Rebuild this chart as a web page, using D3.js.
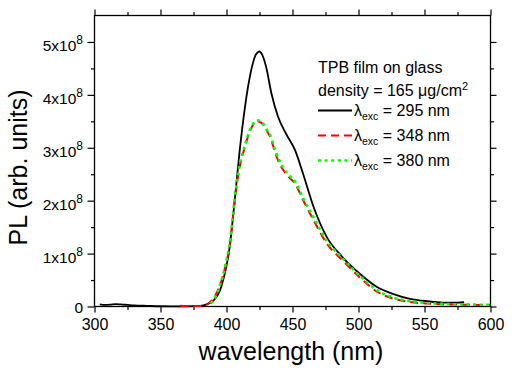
<!DOCTYPE html>
<html><head><meta charset="utf-8">
<script src="https://cdn.jsdelivr.net/npm/d3@7"></script>
<style>body{margin:0;background:#fff}svg{display:block;font-family:"Liberation Sans",Arial,sans-serif}</style>
</head><body>
<svg id="c" width="518" height="371"></svg>
<script>
// ---- data (PL in units of 1e8) ----
const wl295 = [304,308,312,316,320,325,330,340,350,360,370,380,385,390,395,398,402,406,410,414,417,420,422,424,425,427,430,434,439,445,452,458,466,476,488,501,514,526,539,552,564,575,580];
const pl295 = [0.04,0.03,0.035,0.045,0.04,0.03,0.02,0.012,0.005,0.003,0.002,0.01,0.04,0.11,0.3,0.55,1.05,1.95,2.95,3.77,4.25,4.6,4.75,4.81,4.82,4.76,4.53,4.03,3.59,3.27,2.95,2.51,1.88,1.31,0.93,0.62,0.37,0.24,0.146,0.10,0.075,0.075,0.08];
const wl348 = [365,370,375,380,385,390,395,399,403,406,410,414,418,421,423,425,427,429,431,433,436,438,441,443,447,452,458,466,476,488,501,514,526,539,552,565,577,590,600];
const pl348 = [0.015,0.01,0.008,0.01,0.04,0.15,0.4,0.74,1.25,1.95,2.64,3.02,3.33,3.46,3.50,3.49,3.46,3.40,3.30,3.21,2.98,2.83,2.66,2.58,2.45,2.32,2.01,1.63,1.19,0.87,0.55,0.28,0.15,0.085,0.055,0.04,0.035,0.03,0.028];
const wl380 = [388,392,395,399,403,406,410,414,418,421,423,425,427,429,431,433,436,438,441,443,447,452,458,466,476,488,501,514,526,539,552,565,577,590,600];
const pl380 = [0.06,0.2,0.4,0.76,1.3,2.0,2.68,3.05,3.36,3.48,3.52,3.51,3.47,3.41,3.32,3.24,3.02,2.88,2.71,2.62,2.49,2.36,2.05,1.68,1.24,0.91,0.58,0.31,0.17,0.1,0.065,0.05,0.04,0.035,0.03];
const xTicks = [300,350,400,450,500,550,600];
const yTicks = [0,1,2,3,4,5];
const legendTitle = ["TPB film on glass","density = 165 "];
const legendLabels = ["295","348","380"];
const seriesColors = ["#000000","#ff0000","#00ff00"];

const svg = d3.select("#c");
const L=94.5, R=490.5, T=15.5, B=306.5;
const x = d3.scaleLinear().domain([300,600]).range([L,R]);
const y = d3.scaleLinear().domain([0,5.5]).range([B,T]);
const xMinor = d3.range(325,600,50);
const yMinor = d3.range(0.5,5.5,1);
const MAJ=6, MIN=3.5;

const axStyle = g => { g.select(".domain").remove(); g.selectAll("line").attr("stroke","#000").attr("stroke-width",1.2); };

// bottom
svg.append("g").attr("transform",`translate(0,${B})`).call(d3.axisBottom(x).tickValues(xTicks).tickSize(MAJ).tickPadding(6).tickFormat(d3.format("d"))).call(axStyle)
  .selectAll("text").attr("font-size","16px").attr("fill","#000").attr("font-family","Liberation Sans, Arial");
svg.append("g").attr("transform",`translate(0,${B})`).call(d3.axisBottom(x).tickValues(xMinor).tickSize(MIN).tickFormat("")).call(axStyle);
// top
svg.append("g").attr("transform",`translate(0,${T})`).call(d3.axisTop(x).tickValues(xTicks).tickSize(MAJ).tickFormat("")).call(axStyle);
svg.append("g").attr("transform",`translate(0,${T})`).call(d3.axisTop(x).tickValues(xMinor).tickSize(MIN).tickFormat("")).call(axStyle);
// left
const ly = svg.append("g").attr("transform",`translate(${L},0)`).call(d3.axisLeft(y).tickValues(yTicks).tickSize(7).tickPadding(4.5).tickFormat(d=> d===0?"0":d+"x10")).call(axStyle);
ly.selectAll("text").attr("font-size","15.5px").attr("fill","#000").attr("font-family","Liberation Sans, Arial")
  .attr("dy", d=> d===0 ? "0.37em" : "0.56em")
  .each(function(d){ if(d!==0){ const t=d3.select(this); t.text(null); t.append("tspan").text(d+"x10"); t.append("tspan").attr("font-size","12px").attr("dy","-6.7").text("8"); }});
svg.append("g").attr("transform",`translate(${L},0)`).call(d3.axisLeft(y).tickValues(yMinor).tickSize(MIN).tickFormat("")).call(axStyle);
// right
svg.append("g").attr("transform",`translate(${R},0)`).call(d3.axisRight(y).tickValues(yTicks).tickSize(MAJ).tickFormat("")).call(axStyle);
svg.append("g").attr("transform",`translate(${R},0)`).call(d3.axisRight(y).tickValues(yMinor).tickSize(MIN).tickFormat("")).call(axStyle);

// frame
svg.append("rect").attr("x",L).attr("y",T).attr("width",R-L).attr("height",B-T).attr("fill","none").attr("stroke","#000").attr("stroke-width",1.3);

// curves
const line = d3.line().x(d=>x(d[0])).y(d=>y(d[1])).curve(d3.curveMonotoneX);
const series = [
  {wl:wl295, pl:pl295, c:seriesColors[0], w:1.8, dash:null},
  {wl:wl348, pl:pl348, c:seriesColors[1], w:2, dash:"8,5"},
  {wl:wl380, pl:pl380, c:seriesColors[2], w:2.6, dash:"3,3.6"}
];
series.forEach(s=>{
  svg.append("path").datum(s.wl.map((w,i)=>[w,s.pl[i]])).attr("d",line).attr("fill","none")
    .attr("stroke",s.c).attr("stroke-width",s.w).attr("stroke-dasharray",s.dash);
});

// axis titles
svg.append("text").attr("x",291).attr("y",360).attr("text-anchor","middle").attr("font-size","25px").text("wavelength (nm)");
svg.append("text").attr("transform","translate(27,167.5) rotate(-90)").attr("text-anchor","middle").attr("font-size","25px").text("PL (arb. units)");

// legend
const lg = svg.append("g").attr("font-size","16px");
lg.append("text").attr("x",318).attr("y",72.5).text(legendTitle[0]);
const dt = lg.append("text").attr("x",318).attr("y",96).text(legendTitle[1]);
dt.append("tspan").text("μg/cm");
dt.append("tspan").attr("font-size","11px").attr("dy","-6.5").text("2");
const rowsY = [110.5,135.5,160.5];
series.forEach((s,i)=>{
  lg.append("line").attr("x1",318).attr("x2",352).attr("y1",rowsY[i]).attr("y2",rowsY[i])
    .attr("stroke",s.c).attr("stroke-width",s.w).attr("stroke-dasharray",s.dash);
  const t = lg.append("text").attr("x",354).attr("y",rowsY[i]+5.5);
  t.append("tspan").text("λ");
  t.append("tspan").attr("font-size","10.5px").attr("dy","4").text("exc");
  t.append("tspan").attr("dy","-4").text(" = "+legendLabels[i]+" nm");
});
</script>
</body></html>
